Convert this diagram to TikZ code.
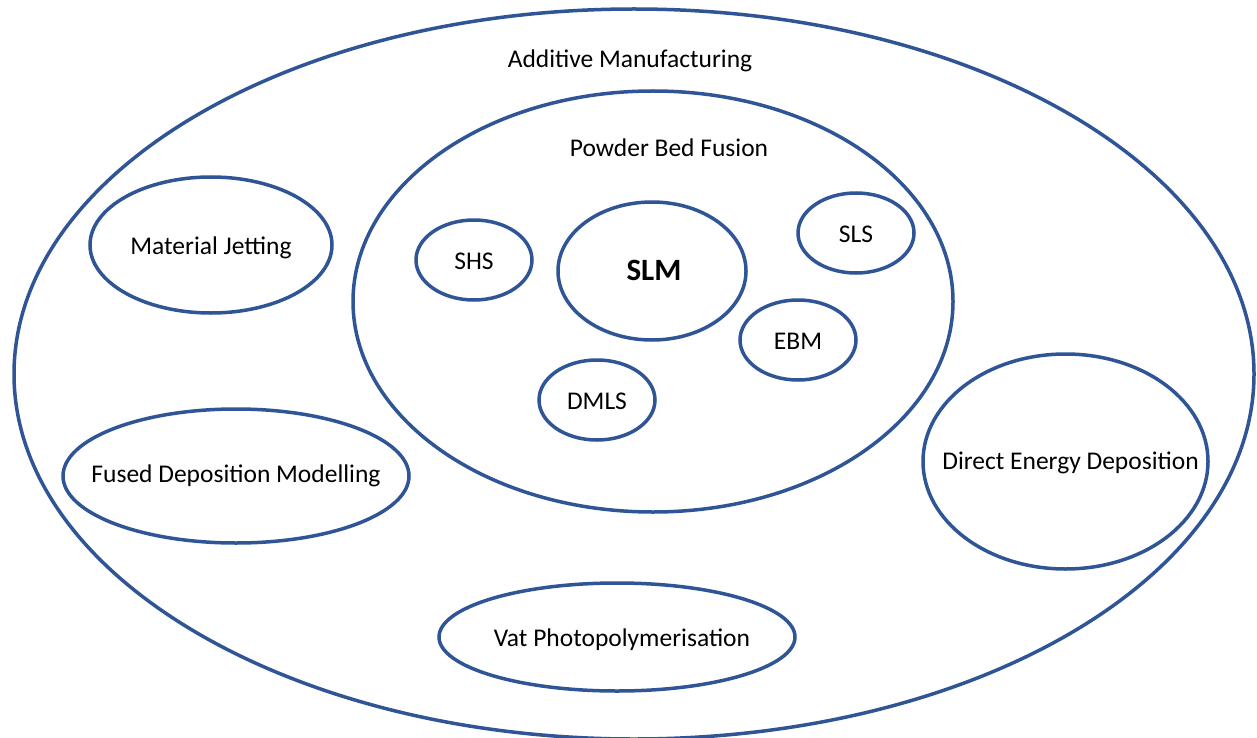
\documentclass[tikz,border=0pt]{standalone}
\usepackage{fontspec}
\setmainfont{Carlito}
\usetikzlibrary{shapes.geometric}
\definecolor{ringblue}{HTML}{2F5597}
\begin{document}
\begin{tikzpicture}[x=1pt,y=-1pt,
  ring/.style={draw=ringblue,line width=3.5pt},
  lbl/.style={font=\fontsize{25.5}{30}\selectfont,inner sep=0pt}]
\useasboundingbox (0,0) rectangle (1257,738);
\fill[white] (0,0) rectangle (1257,738);
\begin{scope}
\clip (0,0) rectangle (1257,738);
\draw[ring] (634,374) ellipse [x radius=620, y radius=365];
\end{scope}
\draw[ring] (653,301.5) ellipse [x radius=300, y radius=210.5];
\draw[ring] (211,245) ellipse [x radius=121, y radius=68];
\draw[ring] (474,260) ellipse [x radius=58, y radius=40];
\draw[ring] (652,271) ellipse [x radius=94, y radius=69];
\draw[ring] (856,233) ellipse [x radius=58, y radius=40];
\draw[ring] (798,340) ellipse [x radius=58, y radius=40];
\draw[ring] (597,400) ellipse [x radius=58, y radius=40];
\draw[ring] (236,476) ellipse [x radius=173, y radius=67];
\draw[ring] (1065.5,461.5) ellipse [x radius=142.5, y radius=107.5];
\draw[ring] (617,637) ellipse [x radius=178, y radius=54];
\node[lbl] (am) at (630,61) {Additive Manufacturing};
\node[lbl] (pbf) at (669,148) {Powder Bed Fusion};
\node[lbl] (mj) at (211,248) {Material Jetting};
\node[lbl] (shs) at (474,261) {SHS};
\node[lbl,font=\fontsize{31}{36}\selectfont\bfseries] (slm) at (654,270) {SLM};
\node[lbl] (sls) at (856,234) {SLS};
\node[lbl] (ebm) at (798,341) {EBM};
\node[lbl] (dmls) at (597,401) {DMLS};
\node[lbl] (fdm) at (236,476) {Fused Deposition Modelling};
\node[lbl] (ded) at (1070.5,463) {Direct Energy Deposition};
\node[lbl] (vat) at (622,640) {Vat Photopolymerisation};
\end{tikzpicture}
\end{document}
